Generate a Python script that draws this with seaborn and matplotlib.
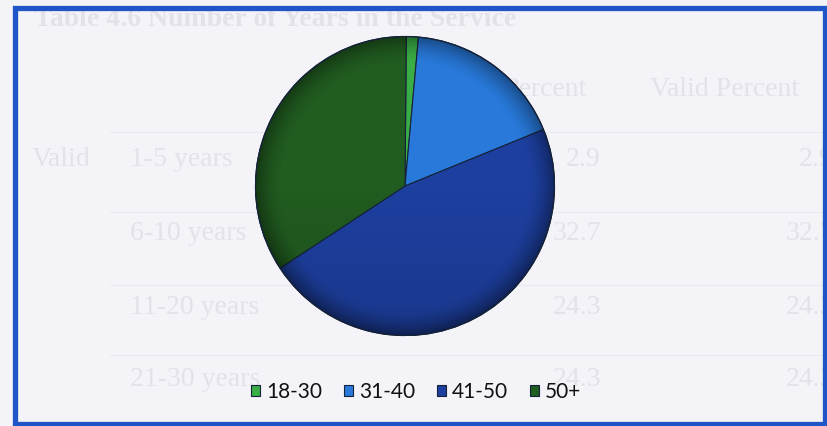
import numpy as np
import matplotlib
matplotlib.use("Agg")
import matplotlib.pyplot as plt
from matplotlib.patches import Rectangle, Circle
import seaborn as sns

# Age groups and their share of respondents (%)
age_groups = ["18-30", "31-40", "41-50", "50+"]
shares = [1.3, 17.4, 46.9, 34.4]

# Faint table printed on the page underneath the chart
table_title = "Table 4.6 Number of Years in the Service"
table_header = ["Percent", "Valid Percent"]
table_rows = ["1-5 years", "6-10 years", "11-20 years", "21-30 years"]
table_percent = [2.9, 32.7, 24.3, 24.3]
table_valid_percent = [2.9, 32.7, 24.3, 24.3]

sns.set_theme(style="white")
plt.rcParams["font.family"] = ["Lato", "DejaVu Sans"]

palette = sns.color_palette(["#3aad46", "#2879da", "#1d3f9f", "#215c20"])

W, H, DPI = 828, 426, 100
fig = plt.figure(figsize=(W / DPI, H / DPI), dpi=DPI)
fig.patch.set_facecolor("#f4f3f8")

# Background layer in pixel coordinates (page text + frame)
bg = fig.add_axes([0, 0, 1, 1], zorder=0)
bg.set_xlim(0, W)
bg.set_ylim(H, 0)
bg.axis("off")

ghost = "#e3e2e9"
serif = ["Liberation Serif", "DejaVu Serif"]
bg.text(34, 20, table_title, color=ghost, fontsize=20, fontweight="bold",
        family=serif, ha="left", va="center")
bg.text(586, 90, table_header[0], color=ghost, fontsize=20, family=serif,
        ha="right", va="center")
bg.text(650, 90, table_header[1], color=ghost, fontsize=20, family=serif,
        ha="left", va="center")
bg.text(32, 160, "Valid", color=ghost, fontsize=20, family=serif,
        ha="left", va="center")
row_y = [160, 234, 307, 380]
for y, lab, p, vp in zip(row_y, table_rows, table_percent, table_valid_percent):
    bg.text(130, y, lab, color=ghost, fontsize=20, family=serif, ha="left", va="center")
    bg.text(601, y, f"{p:.1f}", color=ghost, fontsize=20, family=serif, ha="right", va="center")
    bg.text(834, y, f"{vp:.1f}", color=ghost, fontsize=20, family=serif, ha="right", va="center")
for y in [132, 212, 285, 355]:
    bg.plot([110, 828], [y, y], color="#eae9ef", lw=0.8)

# Blue frame around the chart area
bg.add_patch(Rectangle((15.5, 7.5), 810, 416.5, fill=False, edgecolor="#1f55c6",
                       lw=3.8, clip_on=False, zorder=5))

# Pie: 300 x 300 px centred at (405, 186)
cx, cy, r = 405, 186, 150
ax = fig.add_axes([(cx - r) / W, (H - cy - r) / H, 2 * r / W, 2 * r / H], zorder=1)
wedges, _ = ax.pie(shares, colors=palette, startangle=89.5, counterclock=False,
                   radius=1, wedgeprops=dict(edgecolor="#15233a", linewidth=0.8))
ax.set_aspect("equal")
ax.axis("off")

# Soft bevel shading towards the rim and the bottom of the disc
n = 400
gx, gy = np.meshgrid(np.linspace(-1, 1, n), np.linspace(1, -1, n))
rr = np.sqrt(gx ** 2 + gy ** 2)
alpha = 0.38 * np.clip((rr - 0.82) / 0.18, 0, 1) ** 1.6 + 0.12 * np.clip(-gy, 0, 1)
shade = np.zeros((n, n, 4))
shade[..., 3] = np.clip(alpha, 0, 0.5)
im = ax.imshow(shade, extent=(-1, 1, -1, 1), zorder=3, interpolation="bilinear")
im.set_clip_path(Circle((0, 0), 0.999, transform=ax.transData))
ax.add_patch(Circle((0, 0), 1, fill=False, edgecolor="#15233a", lw=0.9, zorder=4))
ax.set_xlim(-1.003, 1.003)
ax.set_ylim(-1.003, 1.003)

fig.legend(wedges, age_groups, loc="center", bbox_to_anchor=(416 / W, 1 - 392 / H),
           ncol=4, frameon=False, fontsize=15, handlelength=0.42, handleheight=0.42,
           handletextpad=0.3, columnspacing=1.05, borderpad=0, labelcolor="#111111")

fig.savefig("out.png", dpi=DPI, facecolor=fig.get_facecolor())
